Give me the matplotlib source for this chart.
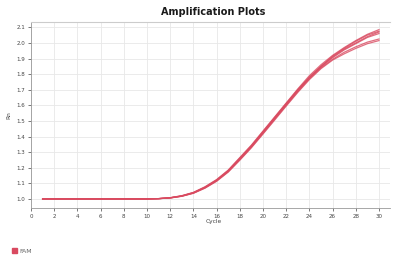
import matplotlib
matplotlib.use("Agg")
import matplotlib.pyplot as plt
from matplotlib.patches import Patch

cycles = list(range(1, 31))

rn_1 = [1.0, 1.0, 1.0, 1.0, 1.0, 1.0, 1.0, 1.0, 1.0, 1.0,
        1.002, 1.008, 1.021, 1.042, 1.078, 1.124, 1.185, 1.265, 1.345, 1.435,
        1.525, 1.615, 1.705, 1.79, 1.86, 1.92, 1.97, 2.015, 2.055, 2.085]
rn_2 = [1.0, 1.0, 1.0, 1.0, 1.0, 1.0, 1.0, 1.0, 1.0, 1.0,
        1.002, 1.008, 1.02, 1.041, 1.076, 1.122, 1.182, 1.262, 1.342, 1.432,
        1.522, 1.612, 1.70, 1.78, 1.85, 1.915, 1.965, 2.01, 2.05, 2.075]
rn_3 = [1.0, 1.0, 1.0, 1.0, 1.0, 1.0, 1.0, 1.0, 1.0, 1.0,
        1.002, 1.007, 1.019, 1.04, 1.074, 1.12, 1.18, 1.258, 1.338, 1.428,
        1.518, 1.608, 1.698, 1.78, 1.85, 1.91, 1.96, 2.00, 2.04, 2.07]
rn_4 = [1.0, 1.0, 1.0, 1.0, 1.0, 1.0, 1.0, 1.0, 1.0, 1.0,
        1.002, 1.007, 1.018, 1.038, 1.072, 1.117, 1.176, 1.254, 1.334, 1.424,
        1.514, 1.604, 1.692, 1.775, 1.845, 1.905, 1.955, 1.995, 2.035, 2.06]
rn_5 = [1.0, 1.0, 1.0, 1.0, 1.0, 1.0, 1.0, 1.0, 1.0, 1.0,
        1.002, 1.007, 1.018, 1.038, 1.071, 1.116, 1.175, 1.252, 1.332, 1.42,
        1.51, 1.60, 1.688, 1.77, 1.84, 1.895, 1.94, 1.975, 2.005, 2.025]
rn_6 = [1.0, 1.0, 1.0, 1.0, 1.0, 1.0, 1.0, 1.0, 1.0, 1.0,
        1.002, 1.006, 1.017, 1.036, 1.069, 1.113, 1.172, 1.248, 1.328, 1.416,
        1.505, 1.595, 1.683, 1.765, 1.835, 1.89, 1.93, 1.965, 1.995, 2.015]

series = [rn_1, rn_2, rn_3, rn_4, rn_5, rn_6]
x_ticks = list(range(0, 31, 2))
y_ticks = [1.0, 1.1, 1.2, 1.3, 1.4, 1.5, 1.6, 1.7, 1.8, 1.9, 2.0, 2.1]
y_tick_labels = ["1.0", "1.1", "1.2", "1.3", "1.4", "1.5", "1.6", "1.7", "1.8", "1.9", "2.0", "2.1"]

color = "#d94a60"

fig = plt.figure(figsize=(3.93, 2.60), dpi=100)
ax = fig.add_axes([31/393, 1 - 208/260, (390 - 31)/393, (208 - 22)/260])

for s in series:
    ax.plot(cycles, s, color=color, lw=0.9, alpha=0.8)

ax.set_xlim(0, 30.95)
ax.set_ylim(0.942, 2.134)
ax.set_xticks(x_ticks)
ax.set_yticks(y_ticks)
ax.set_yticklabels(y_tick_labels)
ax.tick_params(axis="both", labelsize=4, colors="#444444", length=2, width=0.5, pad=2)
ax.grid(True, color="#e8e8e8", lw=0.6)
ax.set_axisbelow(True)
ax.spines["right"].set_visible(False)
ax.spines["top"].set_color("#cccccc")
ax.spines["top"].set_linewidth(0.8)
ax.spines["left"].set_color("#999999")
ax.spines["bottom"].set_color("#999999")
ax.spines["left"].set_linewidth(0.6)
ax.spines["bottom"].set_linewidth(0.6)

fig.text(213/393, 1 - 12/260, "Amplification Plots", ha="center", va="center",
         fontsize=7, fontweight="bold", color="#1a1a1a")
fig.text(9/393, 1 - 115/260, "Rn", rotation=90, ha="center", va="center",
         fontsize=4.2, color="#444444")
fig.text(214/393, 1 - 222/260, "Cycle", ha="center", va="center",
         fontsize=4.2, color="#444444")

fig.legend(handles=[Patch(facecolor=color, edgecolor=color, label="FAM")],
           loc="center left", bbox_to_anchor=(6/393, 1 - 251/260), frameon=False,
           fontsize=4.5, handlelength=0.9, handleheight=0.9, handletextpad=0.4,
           labelcolor="#666666")

fig.savefig("out.png", dpi=100)
